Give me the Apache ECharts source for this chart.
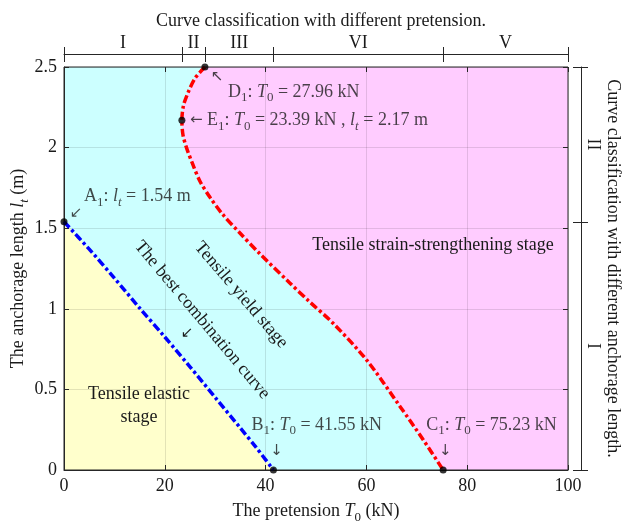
<!DOCTYPE html>
<html>
<head>
<meta charset="utf-8">
<script src="https://cdn.jsdelivr.net/npm/echarts@6/dist/echarts.min.js"></script>
<style>html,body{margin:0;padding:0;background:#fff}#c{width:625px;height:522px}</style>
</head>
<body>
<div id="c"></div>
<script>
// ---------- data ----------
const xMin = 0, xMax = 100, xStep = 20;
const yMin = 0, yMax = 2.5, yStep = 0.5;

// best combination curve (blue)
const blueT0 = [0, 5, 10, 15, 20, 25, 30, 35, 38, 41.55];
const blueLt = [1.54, 1.37, 1.19, 1.005, 0.825, 0.64, 0.45, 0.26, 0.145, 0];

// yield / strain-strengthening boundary (red)
const redT0 = [27.96, 26.0, 24.6, 23.7, 23.39, 23.6, 24.3, 25.5, 27.0, 29.0, 31.5, 34.9, 38.9, 44.8, 48.5, 53.4, 60.1, 66.7, 71.3, 75.23];
const redLt = [2.5, 2.43, 2.34, 2.26, 2.17, 2.08, 2.0, 1.9, 1.79, 1.69, 1.585, 1.47, 1.34, 1.16, 1.05, 0.91, 0.68, 0.393, 0.186, 0];

// key points
const pointNames = ['A', 'B', 'C', 'D', 'E'];
const pointT0 = [0, 41.55, 75.23, 27.96, 23.39];
const pointLt = [1.54, 0, 0, 2.5, 2.17];

// classification axes
const pretensionBounds = [0, 23.39, 27.96, 41.55, 75.23, 100];
const pretensionClasses = ['I', 'II', 'III', 'VI', 'V'];
const lengthBounds = [0, 1.54, 2.5];
const lengthClasses = ['I', 'II'];

// ---------- helpers ----------
const F = 'Liberation Serif';
const FS = 18;
const TXT = '#1a1a1a';
const rich = {
  n: {fontFamily: F, fontSize: FS, color: TXT},
  i: {fontFamily: F, fontSize: FS, fontStyle: 'italic', color: TXT},
  s: {fontFamily: F, fontSize: 13, color: TXT, padding: [12, 0, 0, 0]},
  si: {fontFamily: F, fontSize: 13, fontStyle: 'italic', color: TXT, padding: [12, 0, 0, 0]},
  a: {fontFamily: 'DejaVu Sans', fontSize: 15, color: TXT}
};
const mids = (b) => b.slice(0, -1).map((v, k) => (v + b[k + 1]) / 2);
const preMids = mids(pretensionBounds);
const lenMids = mids(lengthBounds);
function closestIdx(arr, v) {
  let best = 0;
  arr.forEach((a, k) => { if (Math.abs(a - v) < Math.abs(arr[best] - v)) best = k; });
  return best;
}
const T0txt = (v) => '{i|T}{s|0}{n| = ' + v.toFixed(2) + ' kN}';
const LTtxt = (v) => '{i|l}{si|t}{n| = ' + v.toFixed(2) + ' m}';
const head = (k) => '{n|' + pointNames[k] + '}{s|1}{n|: }';

const labelTexts = [
  head(0) + LTtxt(pointLt[0]),
  head(1) + T0txt(pointT0[1]),
  head(2) + T0txt(pointT0[2]),
  head(3) + T0txt(pointT0[3]),
  '{a|←}{n| }' + head(4) + T0txt(pointT0[4]) + '{n| , }' + LTtxt(pointLt[4])
];
const labelOffsets = [[20, -25], [-22, -45], [-17, -45], [23, 25], [8, 0]];
const arrowTexts = ['↙', '↓', '↓', '↖', ''];
const arrowOffsets = [[12, -9], [3, -19], [2, -19], [12, 10], [0, 0]];

function fillSeries(ts, ls, color) {
  return {
    type: 'custom', silent: true, z: -1, clip: true,
    data: ts.map((t, k) => [t, ls[k]]),
    renderItem: function (params, api) {
      if (params.dataIndex !== 0) return;
      const pts = ts.map((t, k) => api.coord([t, ls[k]]));
      return {type: 'polygon', shape: {points: pts}, style: {fill: color}};
    }
  };
}

const chart = echarts.init(document.getElementById('c'), null, {renderer: 'canvas'});

const axisLineStyle = {color: '#262626', width: 1};
const lineOn = {show: true, onZero: false, lineStyle: axisLineStyle};
const lineOff = {show: false, onZero: false};
const gridBox = {left: 64, right: 57, top: 67, bottom: 52, containLabel: false, outerBoundsMode: 'none'};
const splitStyle = {show: true, lineStyle: {color: 'rgba(0,0,0,0.11)', width: 1}};
const labelFont = {fontFamily: F, fontSize: FS, color: TXT};

const option = {
  animation: false,
  backgroundColor: '#ffffff',
  title: {
    text: 'Curve classification with different pretension.',
    left: 316, top: 7, textAlign: 'center',
    textStyle: {fontFamily: F, fontSize: FS, fontWeight: 'normal', color: TXT}
  },
  grid: [
    Object.assign({show: true, borderColor: '#262626', borderWidth: 1, backgroundColor: 'transparent'}, gridBox),
    Object.assign({show: false}, gridBox),
    Object.assign({show: false}, gridBox)
  ],
  xAxis: [
    {
      gridIndex: 0, type: 'value', position: 'bottom', min: xMin, max: xMax, interval: xStep,
      axisLine: lineOn,
      axisTick: {inside: true, length: 5, lineStyle: axisLineStyle},
      axisLabel: Object.assign({margin: 7}, labelFont),
      splitLine: splitStyle,
      name: '{n|The pretension }{i|T}{s|0}{n| (kN)}',
      nameLocation: 'middle', nameGap: 29,
      nameTextStyle: {rich: rich}
    },
    {
      gridIndex: 0, type: 'value', position: 'top', offset: 13, min: xMin, max: xMax,
      axisLine: lineOn,
      axisTick: {customValues: pretensionBounds, length: 7, lineStyle: axisLineStyle},
      axisLabel: Object.assign({
        customValues: preMids, margin: 2,
        formatter: (v) => pretensionClasses[closestIdx(preMids, v)]
      }, labelFont),
      splitLine: {show: false}
    },
    {
      gridIndex: 1, type: 'value', position: 'top', offset: 13, min: xMin, max: xMax,
      axisLine: lineOff,
      axisTick: {customValues: pretensionBounds, inside: true, length: 8, lineStyle: axisLineStyle},
      axisLabel: {show: false}, splitLine: {show: false}
    },
    {
      gridIndex: 2, type: 'value', position: 'top', offset: 0, min: xMin, max: xMax, interval: xStep,
      axisLine: lineOff,
      axisTick: {inside: true, length: 5, lineStyle: axisLineStyle},
      axisLabel: {show: false}, splitLine: {show: false}
    }
  ],
  yAxis: [
    {
      gridIndex: 0, type: 'value', position: 'left', min: yMin, max: yMax, interval: yStep,
      axisLine: lineOn,
      axisTick: {inside: true, length: 5, lineStyle: axisLineStyle},
      axisLabel: Object.assign({margin: 7}, labelFont),
      splitLine: splitStyle,
      name: '{n|The anchorage length }{i|l}{si|t}{n| (m)}',
      nameLocation: 'middle', nameGap: 33, nameRotate: 90, nameMoveOverlap: false,
      nameTextStyle: {rich: rich}
    },
    {
      gridIndex: 0, type: 'value', position: 'right', offset: 13, min: yMin, max: yMax,
      axisLine: lineOn,
      axisTick: {customValues: lengthBounds, length: 7, lineStyle: axisLineStyle},
      axisLabel: Object.assign({
        customValues: lenMids, margin: 3, rotate: -90,
        formatter: (v) => lengthClasses[closestIdx(lenMids, v)]
      }, labelFont),
      splitLine: {show: false},
      name: 'Curve classification with different anchorage length.',
      nameLocation: 'middle', nameGap: 23, nameRotate: -90, nameMoveOverlap: false,
      nameTextStyle: {fontFamily: F, fontSize: FS, color: TXT}
    },
    {
      gridIndex: 1, type: 'value', position: 'right', offset: 13, min: yMin, max: yMax,
      axisLine: lineOff,
      axisTick: {customValues: lengthBounds, inside: true, length: 8, lineStyle: axisLineStyle},
      axisLabel: {show: false}, splitLine: {show: false}
    },
    {
      gridIndex: 2, type: 'value', position: 'right', offset: 0, min: yMin, max: yMax, interval: yStep,
      axisLine: lineOff,
      axisTick: {inside: true, length: 5, lineStyle: axisLineStyle},
      axisLabel: {show: false}, splitLine: {show: false}
    }
  ],
  series: [
    fillSeries([xMin, xMax, xMax, xMin], [yMin, yMin, yMax, yMax], '#ccffff'),
    fillSeries(redT0.concat([xMax, xMax]), redLt.concat([yMin, yMax]), '#ffccff'),
    fillSeries([xMin].concat(blueT0), [yMin].concat(blueLt), '#ffffcc'),
    {
      type: 'line', name: 'best', data: blueT0.map((t, k) => [t, blueLt[k]]),
      showSymbol: false, symbol: 'none', smooth: 0.3, z: 3,
      lineStyle: {color: '#0000ff', width: 3.5, type: [8, 3, 3, 3]}
    },
    {
      type: 'line', name: 'boundary', data: redT0.map((t, k) => [t, redLt[k]]),
      showSymbol: false, symbol: 'none', smooth: 0.3, z: 3,
      lineStyle: {color: '#ff0000', width: 3.5, type: [8, 3, 3, 3]}
    },
    {
      type: 'scatter', z: 5, symbol: 'circle', symbolSize: 7, clip: false,
      itemStyle: {color: '#000'},
      data: pointT0.map((t, k) => ({
        value: [t, pointLt[k]],
        label: {
          show: true, position: 'inside', align: 'left', verticalAlign: 'middle',
          color: TXT, textBorderWidth: 0,
          offset: labelOffsets[k], formatter: labelTexts[k], rich: rich
        }
      }))
    },
    {
      type: 'scatter', z: 5, symbol: 'circle', symbolSize: 1, clip: false, silent: true,
      itemStyle: {color: 'rgba(0,0,0,0)'},
      data: pointT0.map((t, k) => ({
        value: [t, pointLt[k]],
        label: {
          show: true, position: 'inside', align: 'center', verticalAlign: 'middle',
          color: TXT, textBorderWidth: 0,
          offset: arrowOffsets[k], formatter: '{a|' + arrowTexts[k] + '}', rich: rich
        }
      }))
    }
  ],
  graphic: [
    {type: 'text', x: 433, y: 245, z: 10, silent: true,
     style: {text: 'Tensile strain-strengthening stage', font: FS + 'px "Liberation Serif"', fill: TXT, align: 'center', verticalAlign: 'middle'}},
    {type: 'text', x: 241, y: 295, rotation: -49.5 * Math.PI / 180, z: 10, silent: true,
     style: {text: 'Tensile yield stage', font: FS + 'px "Liberation Serif"', fill: TXT, align: 'center', verticalAlign: 'middle'}},
    {type: 'text', x: 202, y: 320, rotation: -50 * Math.PI / 180, z: 10, silent: true,
     style: {text: 'The best combination curve', font: FS + 'px "Liberation Serif"', fill: TXT, align: 'center', verticalAlign: 'middle'}},
    {type: 'text', x: 187, y: 333, z: 10, silent: true,
     style: {text: '↙', font: '15px "DejaVu Sans"', fill: TXT, align: 'center', verticalAlign: 'middle'}},
    {type: 'text', x: 139, y: 406, z: 10, silent: true,
     style: {text: 'Tensile elastic\nstage', font: FS + 'px "Liberation Serif"', fill: TXT, align: 'center', verticalAlign: 'middle', lineHeight: 23}}
  ]
};
chart.setOption(option);
</script>
</body>
</html>
